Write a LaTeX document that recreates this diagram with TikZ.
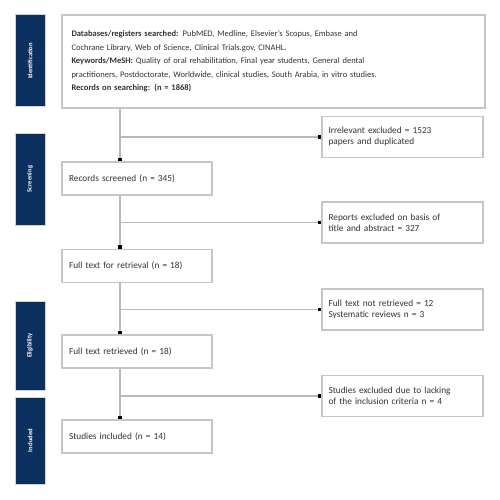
\documentclass[tikz,border=0pt]{standalone}
\usepackage{fontspec}
\setmainfont{Carlito}
\usetikzlibrary{arrows.meta}
\definecolor{navy}{HTML}{0B2F5E}
\definecolor{txt}{HTML}{333333}
\tikzset{
  phase/.style={fill=navy, draw=gray!35, line width=1pt, minimum width=30pt, inner sep=0pt,
    text=white, font=\fontsize{6.5}{7}\selectfont\bfseries},
  flowbox/.style={draw=gray!45, line width=1.6pt, fill=white, inner sep=0pt, align=left,
    text=txt, font=\fontsize{9.3}{11}\selectfont},
  conn/.style={draw=gray!55, line width=1.3pt, -{Square[length=3.5pt,width=3.5pt,black]}},
  plain/.style={draw=gray!55, line width=1.3pt}
}
\begin{document}
\begin{tikzpicture}[x=1pt,y=-1pt]
\useasboundingbox (0,0) rectangle (500,500);
% phase labels
\node[phase, minimum height=92pt] (pid) at (30,61) {\rotatebox{90}{Identification}};
\node[phase, minimum height=92pt] (psc) at (30,179) {\rotatebox{90}{Screening}};
\node[phase, minimum height=89pt] (pel) at (30,345.5) {\rotatebox{90}{Eligibility}};
\node[phase, minimum height=87pt] (pin) at (30,440.5) {\rotatebox{90}{Included}};
% main boxes
\node[flowbox, minimum width=423pt, minimum height=93pt, text width=404pt, font=\fontsize{8.5}{13.5}\selectfont] (top) at (273.5,61.5)
 {\textbf{Databases/registers searched:} PubMED, Medline, Elsevier's Scopus, Embase and\\
  Cochrane Library, Web of Science, Clinical Trials.gov, CINAHL.\\
  \textbf{Keywords/MeSH:} Quality of oral rehabilitation, Final year students, General dental\\
  practitioners, Postdoctorate, Worldwide, clinical studies, South Arabia, in vitro studies.\\
  \textbf{Records on searching: (n = 1868)}};
\node[flowbox, minimum width=150pt, minimum height=33pt, text width=136pt] (scr) at (137,178.5) {Records screened (n = 345)};
\node[flowbox, minimum width=150pt, minimum height=33pt, text width=136pt] (ftr) at (137,266) {Full text for retrieval (n = 18)};
\node[flowbox, minimum width=150pt, minimum height=33pt, text width=136pt] (fta) at (137,351.5) {Full text retrieved (n = 18)};
\node[flowbox, minimum width=150pt, minimum height=33pt, text width=136pt] (inc) at (137,436.5) {Studies included (n = 14)};
% exclusion boxes
\node[flowbox, minimum width=161pt, minimum height=41pt, text width=148pt] (ex1) at (402.5,137) {Irrelevant excluded = 1523\\papers and duplicated};
\node[flowbox, minimum width=161pt, minimum height=41pt, text width=148pt] (ex2) at (402.5,222.5) {Reports excluded on basis of\\title and abstract = 327};
\node[flowbox, minimum width=161pt, minimum height=41pt, text width=148pt] (ex3) at (402.5,309.5) {Full text not retrieved = 12\\Systematic reviews n = 3};
\node[flowbox, minimum width=161pt, minimum height=41pt, text width=148pt] (ex4) at (402.5,396) {Studies excluded due to lacking\\of the inclusion criteria n = 4};
% spine
\coordinate (sp) at (120,0);
\draw[conn] (top.south -| sp) -- (scr.north -| sp);
\draw[conn] (scr.south -| sp) -- (ftr.north -| sp);
\draw[conn] (ftr.south -| sp) -- (fta.north -| sp);
\draw[conn] (fta.south -| sp) -- (inc.north -| sp);
\draw[conn] (sp |- ex1.west) -- (ex1.west);
\draw[conn] (sp |- ex2.west) -- (ex2.west);
\draw[conn] (sp |- ex3.west) -- (ex3.west);
\draw[conn] (sp |- ex4.west) -- (ex4.west);
\end{tikzpicture}
\end{document}
